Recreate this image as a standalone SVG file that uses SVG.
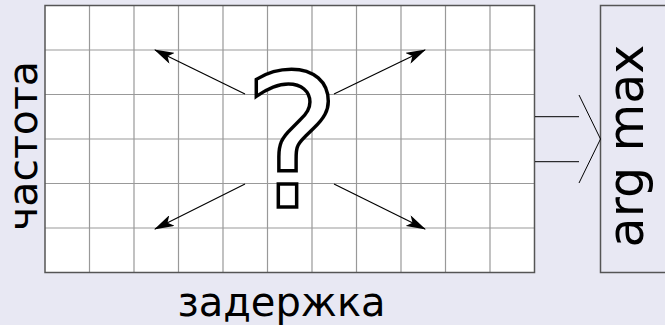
<svg xmlns="http://www.w3.org/2000/svg" width="665" height="325" viewBox="0 0 665 325">
<style>
.lbl{font-family:"DejaVu Sans",sans-serif;fill:#000}
.grid{stroke:#999;stroke-width:1.2;fill:none}
.frame{stroke:#555;stroke-width:1.5}
.arr{stroke:#000;stroke-width:1.2;fill:none;marker-end:url(#ah)}
.conn{stroke:#000;stroke-width:1;fill:none}
</style>
<defs>
<marker id="ah" viewBox="0 0 20 12" refX="19" refY="6" markerWidth="20" markerHeight="12" markerUnits="userSpaceOnUse" orient="auto">
<path d="M20,6 L0,0 L5,6 L0,12 Z" fill="#000"/>
</marker>
</defs>
<rect width="665" height="325" fill="#e8e8f3"/>
<g id="grid">
<rect x="45" y="5.5" width="489.5" height="267" fill="#fff"/>
<path class="grid" d="M89.5,5.5V272.5M134,5.5V272.5M178.5,5.5V272.5M223,5.5V272.5M267.5,5.5V272.5M312,5.5V272.5M356.5,5.5V272.5M401,5.5V272.5M445.5,5.5V272.5M490,5.5V272.5M45,50H534.5M45,94.5H534.5M45,139H534.5M45,183.5H534.5M45,228H534.5"/>
<rect class="frame" x="45" y="5.5" width="489.5" height="267" fill="none"/>
</g>
<g id="question">
<text class="lbl" x="292" y="207" font-size="185" text-anchor="middle" stroke="#000" stroke-width="3.5" style="fill:#fff">?</text>
</g>
<g id="argmax">
<rect class="frame" x="600.5" y="5.5" width="80" height="267" fill="#e8e8f3"/>
<text class="lbl" transform="translate(643,146) rotate(-90)" font-size="49" text-anchor="middle">arg max</text>
</g>
<g id="labels">
<text class="lbl" transform="translate(37,146) rotate(-90)" font-size="41" text-anchor="middle">частота</text>
<text class="lbl" x="281.5" y="316" font-size="40" text-anchor="middle">задержка</text>
</g>
<g id="connectors">
<line class="arr" x1="245" y1="94" x2="155" y2="50"/>
<line class="arr" x1="334" y1="94" x2="425" y2="50"/>
<line class="arr" x1="245" y1="184" x2="155" y2="229"/>
<line class="arr" x1="334" y1="184" x2="425" y2="229"/>
<path class="conn" d="M535,116.7H579M535,161.7H579M579,95L600.5,139L579,183"/>
</g>
</svg>
